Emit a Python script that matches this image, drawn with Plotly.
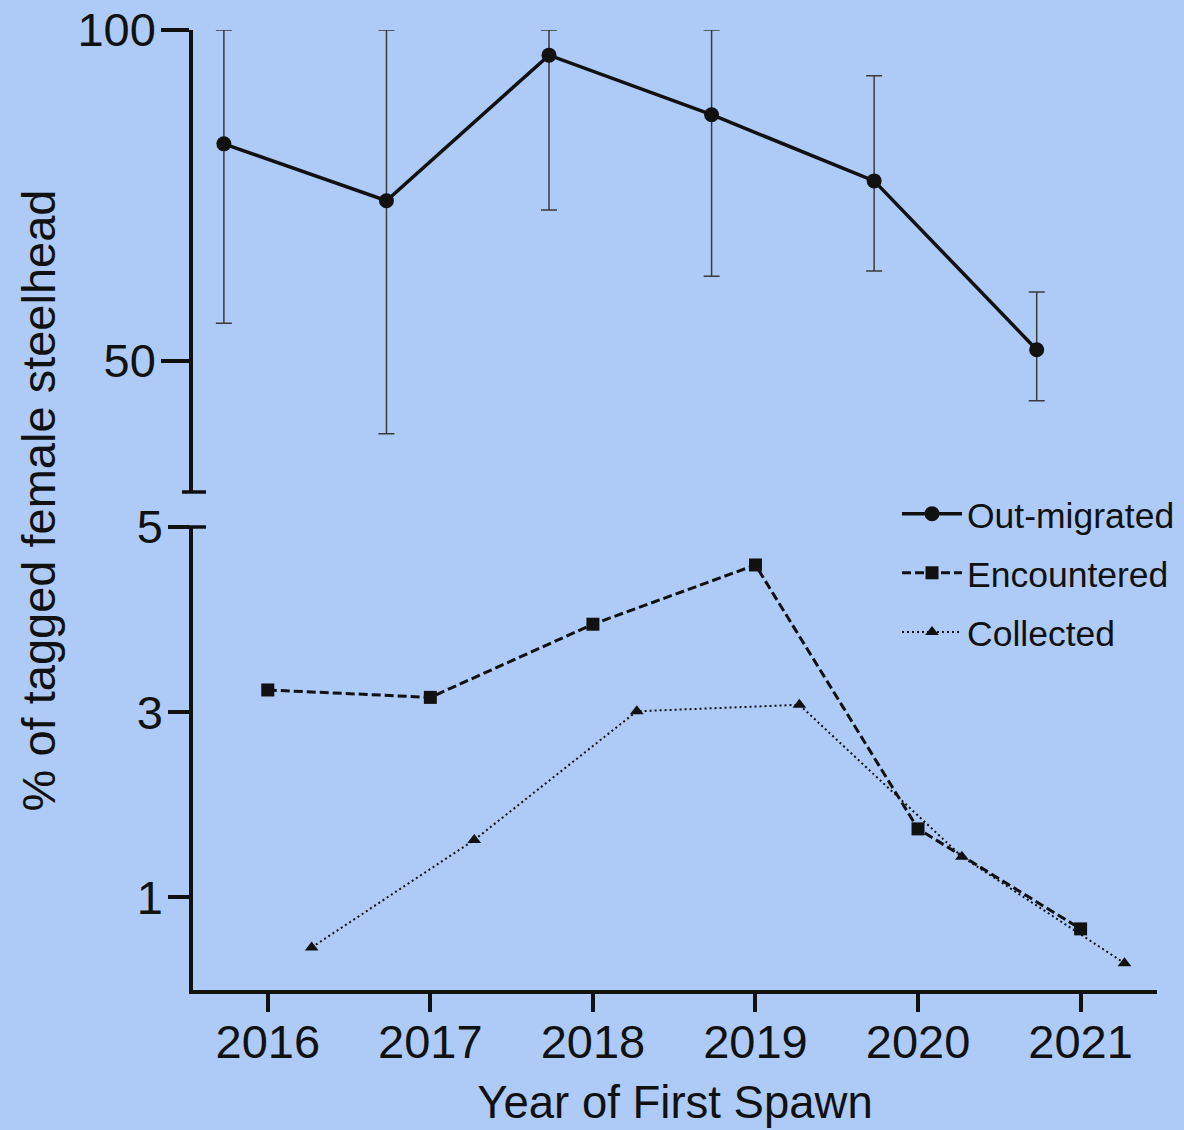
import plotly.graph_objects as go

# Year of first spawn
years = [2016, 2017, 2018, 2019, 2020, 2021]

# Percent of tagged female steelhead (upper panel)
out_migrated = [82.8, 74.2, 96.2, 87.2, 77.2, 51.7]
out_upper = [100.0, 100.0, 100.0, 100.0, 93.1, 60.4]
out_lower = [55.7, 39.0, 72.8, 62.8, 63.6, 44.0]

# Percent of tagged female steelhead (lower panel)
encountered = [3.24, 3.16, 3.95, 4.59, 1.74, 0.66]
collected = [0.46, 1.62, 3.01, 3.08, 1.44, 0.29]

# Horizontal dodge so the three series don't sit on top of each other
DODGE = 0.27
x_out = [y - DODGE for y in years]
x_enc = list(years)
x_col = [y + DODGE for y in years]

BG = "rgb(174,203,247)"
INK = "#111111"
FONT = "Liberation Sans, Arial, sans-serif"

err_plus = [u - v for u, v in zip(out_upper, out_migrated)]
err_minus = [v - l for v, l in zip(out_migrated, out_lower)]

fig = go.Figure()

fig.add_trace(go.Scatter(
    x=x_out, y=out_migrated, yaxis="y2", name="Out-migrated",
    mode="lines+markers", legendgroup="a",
    line=dict(color=INK, width=3.5),
    marker=dict(symbol="circle", size=15, color=INK),
    error_y=dict(type="data", array=err_plus, arrayminus=err_minus,
                 color="#3a3a3a", thickness=1.5, width=8),
))
fig.add_trace(go.Scatter(
    x=x_enc, y=encountered, yaxis="y", name="Encountered",
    mode="lines+markers", legendgroup="b",
    line=dict(color=INK, width=3, dash="9px,4px"),
    marker=dict(symbol="square", size=13, color=INK),
))
fig.add_trace(go.Scatter(
    x=x_col, y=collected, yaxis="y", name="Collected",
    mode="lines+markers", legendgroup="c",
    line=dict(color=INK, width=2, dash="2px,3px"),
    marker=dict(symbol="triangle-up", size=12, color=INK),
))

axis_common = dict(
    showline=True, linecolor=INK, linewidth=3.5, ticks="outside",
    tickcolor=INK, tickwidth=3.5, showgrid=False, zeroline=False,
    automargin=False,
    tickfont=dict(size=47, color=INK, family=FONT),
)

# Plot area spans x = 193..1157 px; right margin left at 0 so the legend fits
X_END = 964 / 991

fig.update_layout(
    width=1184, height=1130,
    margin=dict(l=193, r=0, t=30, b=140),
    paper_bgcolor=BG, plot_bgcolor=BG,
    font=dict(family=FONT, color=INK),
    xaxis=dict(
        domain=[0, X_END],
        range=[2015.54, 2021.47], tickvals=years,
        ticktext=[str(y) for y in years], ticklen=18, ticklabelstandoff=-10,
        title=dict(text="Year of First Spawn", font=dict(size=45.5, color=INK, family=FONT),
                   standoff=20),
        anchor="y", **axis_common,
    ),
    yaxis=dict(
        domain=[0, 0.4823], range=[0, 5], tickvals=[1, 3, 5],
        ticklen=21, ticklabelstandoff=-4, anchor="x", **axis_common,
    ),
    yaxis2=dict(
        domain=[0.51875, 1], range=[30.2, 100], tickvals=[50, 100],
        ticklen=28, ticklabelstandoff=-4, anchor="x", **axis_common,
    ),
    showlegend=True,
    legend=dict(
        x=0.7104, y=0.527, xanchor="left", yanchor="top",
        bgcolor="rgba(0,0,0,0)", font=dict(size=35.5, color=INK, family=FONT),
        traceorder="grouped", tracegroupgap=10, itemwidth=60,
    ),
)

# Axis-break caps on the y axis
for yp in [0.51875, 0.4823]:
    fig.add_shape(type="line", xref="paper", yref="paper",
                  x0=-11 / 991, x1=13 / 991, y0=yp, y1=yp,
                  line=dict(color=INK, width=3.5))

fig.add_annotation(
    text="% of tagged female steelhead", xref="paper", yref="paper",
    x=-155 / 991, y=0.51, xanchor="center", yanchor="middle",
    textangle=-90, showarrow=False,
    font=dict(size=47, color=INK, family=FONT),
)

fig.write_html("out.html")
